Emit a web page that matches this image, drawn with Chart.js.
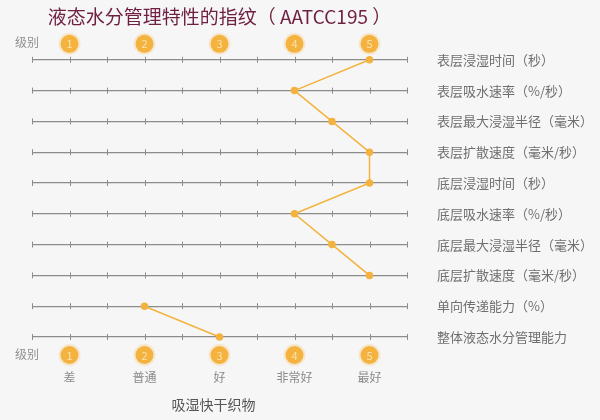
<!DOCTYPE html>
<html>
<head>
<meta charset="utf-8">
<script src="https://cdn.jsdelivr.net/npm/chart.js@4/dist/chart.umd.min.js"></script>
<style>
  html, body { margin: 0; padding: 0; background: #f6f6f6; }
  #wrap { width: 600px; height: 420px; }
</style>
</head>
<body>
<div id="wrap"><canvas id="c"></canvas></div>
<script>
// data
const properties = ['表层浸湿时间（秒）', '表层吸水速率（%/秒）', '表层最大浸湿半径（毫米）', '表层扩散速度（毫米/秒）',
    '底层浸湿时间（秒）', '底层吸水速率（%/秒）', '底层最大浸湿半径（毫米）', '底层扩散速度（毫米/秒）',
    '单向传递能力（%）', '整体液态水分管理能力'];
const gradeValues = [5, 4, 4.5, 5, 5, 4, 4.5, 5, 2, 3];
// line restarts at this row (no segment drawn between 底层扩散速度 and 单向传递能力)
const lineBreakAt = 8;
const levels = [1, 2, 3, 4, 5];
const levelNames = ['差', '普通', '好', '非常好', '最好'];
const levelLabel = '级别';
const titleText = '液态水分管理特性的指纹（ AATCC195 ）';
const fabricName = '吸湿快干织物';

const orange = '#f4b23e';
const gray = '#8c8c8c';
const font = "'Noto Sans CJK SC', 'Noto Sans', sans-serif";

// small ticks on every line + level badges + bottom captions
const decoPlugin = {
    id: 'deco',
    beforeDatasetsDraw(chart) {
        const ctx = chart.ctx;
        const xs = chart.scales.x, ys = chart.scales.y;
        ctx.save();
        ctx.strokeStyle = gray;
        ctx.lineWidth = 1;
        properties.forEach((p, i) => {
            const y = ys.getPixelForValue(i);
            xs.ticks.forEach(t => {
                const x = Math.round(xs.getPixelForValue(t.value)) + 0.5;
                ctx.beginPath();
                ctx.moveTo(x, y - 3);
                ctx.lineTo(x, y + 3);
                ctx.stroke();
            });
        });
        ctx.restore();
    },
    afterDraw(chart) {
        const ctx = chart.ctx;
        const xs = chart.scales.x;
        const area = chart.chartArea;
        const rows = [area.top - 16, area.bottom + 18];
        ctx.save();
        ctx.textAlign = 'center';
        ctx.textBaseline = 'middle';
        rows.forEach(cy => {
            ctx.font = '12px ' + font;
            ctx.fillStyle = '#909090';
            ctx.fillText(levelLabel, 27, cy - 1);
            levels.forEach(l => {
                const cx = xs.getPixelForValue(l);
                ctx.beginPath();
                ctx.arc(cx, cy, 11, 0, Math.PI * 2);
                ctx.fillStyle = 'rgba(244,178,62,0.22)';
                ctx.fill();
                ctx.beginPath();
                ctx.arc(cx, cy, 9, 0, Math.PI * 2);
                ctx.fillStyle = orange;
                ctx.fill();
                ctx.fillStyle = '#fde2ae';
                ctx.font = '11px ' + font;
                ctx.fillText(String(l), cx, cy + 0.5);
            });
        });
        ctx.font = '12px ' + font;
        ctx.fillStyle = '#8a8a8a';
        levels.forEach((l, i) => {
            ctx.fillText(levelNames[i], xs.getPixelForValue(l), area.bottom + 40);
        });
        ctx.font = '14px ' + font;
        ctx.fillStyle = '#555555';
        ctx.fillText(fabricName, (area.left + area.right) / 2 - 6, area.bottom + 68);
        ctx.restore();
    }
};

const lineStyle = {
    borderColor: orange,
    backgroundColor: orange,
    borderWidth: 1.5,
    pointRadius: 3,
    pointHoverRadius: 3,
    tension: 0
};

new Chart(document.getElementById('c'), {
    type: 'line',
    data: {
        labels: properties,
        datasets: [
            Object.assign({ data: gradeValues.map((v, i) => i < lineBreakAt ? v : null) }, lineStyle),
            Object.assign({ data: gradeValues.map((v, i) => i >= lineBreakAt ? v : null) }, lineStyle)
        ]
    },
    plugins: [decoPlugin],
    options: {
        indexAxis: 'y',
        responsive: true,
        maintainAspectRatio: false,
        animation: false,
        spanGaps: false,
        layout: { padding: { left: 32, right: 0, top: 0, bottom: 83 } },
        plugins: {
            legend: { display: false },
            tooltip: { enabled: false },
            title: {
                display: true,
                text: titleText,
                fullSize: false,
                color: '#6e1f42',
                font: { family: font, size: 19, weight: 'normal' },
                padding: { top: 5, bottom: 32 }
            }
        },
        scales: {
            x: {
                type: 'linear',
                display: false,
                min: 0.5,
                max: 5.5,
                ticks: { stepSize: 0.5 }
            },
            y: {
                type: 'category',
                position: 'right',
                offset: false,
                grid: { color: gray, lineWidth: 1.2, drawTicks: false },
                border: { display: false },
                ticks: {
                    padding: 30,
                    color: '#6f6f6f',
                    font: { family: font, size: 13 }
                },
                afterFit(scale) { scale.width = 193; }
            }
        }
    }
});
</script>
</body>
</html>
